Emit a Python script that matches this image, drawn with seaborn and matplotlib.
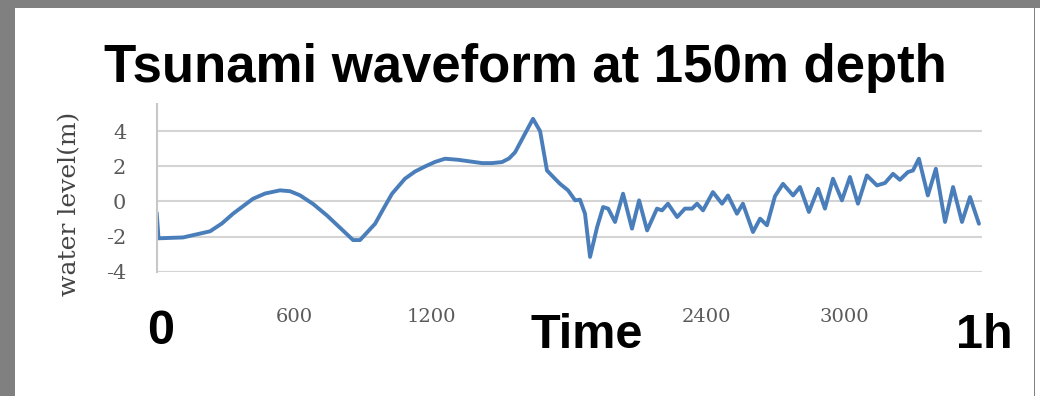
import matplotlib
matplotlib.use('Agg')
import numpy as np
import pandas as pd
import matplotlib.pyplot as plt
from matplotlib.patches import Rectangle
import seaborn as sns

# waveform (seconds, metres)
time_s = [0, 8, 115, 233, 285, 333, 420, 473, 538, 582, 625, 683, 743, 800,
          857, 887, 953, 988, 1027, 1083, 1127, 1171, 1215, 1258, 1315, 1420,
          1463, 1507, 1538, 1564, 1607, 1642, 1673, 1703, 1738,
          1760, 1795, 1826, 1847, 1869, 1891, 1922, 1948, 1970, 2000, 2035,
          2074, 2105, 2140, 2183, 2205, 2231, 2271, 2305, 2336, 2358, 2384,
          2427, 2467, 2493, 2532, 2558, 2602, 2633, 2663, 2698, 2733, 2777,
          2807, 2846, 2886, 2916, 2951, 2990, 3025, 3060, 3099, 3143, 3178,
          3213, 3243, 3278, 3300, 3326, 3365, 3400, 3440, 3475, 3514, 3549,
          3588]
water_level = [-0.65, -2.1, -2.05, -1.7, -1.25, -0.7, 0.15, 0.45, 0.63, 0.58,
               0.35, -0.15, -0.8, -1.5, -2.2,
               -2.2, -1.27, -0.45, 0.44, 1.29, 1.7, 1.99, 2.25, 2.43, 2.37,
               2.18, 2.18, 2.24, 2.45, 2.8,
               3.85, 4.7, 4.0, 1.76, 1.29, 1.0, 0.63, 0.06, 0.1, -0.7, -3.16,
               -1.45, -0.32, -0.41, -1.17, 0.44, -1.55, 0.06, -1.65, -0.41,
               -0.51, -0.13, -0.89, -0.41, -0.41, -0.13, -0.51, 0.53, -0.13,
               0.34, -0.7, -0.13, -1.74, -0.98, -1.36, 0.3, 1.0, 0.34, 0.82,
               -0.6, 0.72, -0.41, 1.29, 0.06, 1.39, -0.13, 1.48, 0.91, 1.05,
               1.57, 1.23, 1.67, 1.76, 2.43, 0.34, 1.86, -1.17, 0.82, -1.17,
               0.25, -1.27]

# 0, 1800 and 3600 are hidden under the big labels in the reference
x_ticks = [0, 600, 1200, 1800, 2400, 3000, 3600]
x_tick_labels = ['', '600', '1200', '', '2400', '3000', '']
y_ticks = [-4, -2, 0, 2, 4]

df = pd.DataFrame({'time': time_s, 'level': water_level})

sns.set_theme(style="whitegrid")
plt.rcParams['font.family'] = ['DejaVu Serif']

fig = plt.figure(figsize=(10.4, 3.96), dpi=100)
fig.patch.set_facecolor('#808080')
fig.add_artist(Rectangle((15 / 1040, 0), 1019 / 1040, 388 / 396,
                         transform=fig.transFigure, facecolor='white',
                         edgecolor='none', zorder=-1))
fig.add_artist(Rectangle((1035 / 1040, 0), 5 / 1040, 388 / 396,
                         transform=fig.transFigure, facecolor='white',
                         edgecolor='none', zorder=-1))

ax = fig.add_axes([156.7 / 1040, 124.3 / 396, 825 / 1040, 175.7 / 396])
ax.set_facecolor('white')

sns.lineplot(data=df, x='time', y='level', ax=ax, color='#4a7ebb',
             linewidth=2.8, sort=False, solid_joinstyle='round')

ax.set_xlim(0, 3600)
ax.set_ylim(-4, 6)
ax.set_xticks(x_ticks)
ax.set_yticks(y_ticks)
ax.set_xticklabels(x_tick_labels)
ax.set_yticklabels([str(v) for v in y_ticks])
ax.grid(axis='y', color='#d4d4d4', linewidth=1.5)
ax.grid(axis='x', visible=False)
for s in ['top', 'right', 'bottom']:
    ax.spines[s].set_visible(False)
ax.spines['left'].set_color('#c8c8c8')
ax.spines['left'].set_linewidth(1.5)
ax.tick_params(axis='x', length=0, pad=26, labelsize=14, labelcolor='#5a5a5a')
ax.tick_params(axis='y', length=0, pad=22, labelsize=15, labelcolor='#5a5a5a')
ax.set_xlabel('')
ax.set_ylabel('water level(m)', fontsize=18, color='#444444')
ax.yaxis.set_label_coords(-0.092, 0.385)

# white title band hides the top of the axis
fig.add_artist(Rectangle((15 / 1040, (396 - 103) / 396), 1019 / 1040, 95 / 396,
                         transform=fig.transFigure, facecolor='white',
                         edgecolor='none', zorder=5))
fig.text(525 / 1040, (396 - 82) / 396, 'Tsunami waveform at 150m depth',
         ha='center', va='baseline', fontsize=38, fontweight='bold',
         family='Liberation Sans', color='black', zorder=6)

for label, xp, yp in [('0', 161, 332), ('Time', 587, 336), ('1h', 984, 336)]:
    fig.text(xp / 1040, (396 - yp) / 396, label, ha='center', va='center',
             fontsize=35, fontweight='bold', family='Liberation Sans',
             color='black', zorder=6)

plt.savefig('out.png', dpi=100, facecolor=fig.get_facecolor())
plt.close()
